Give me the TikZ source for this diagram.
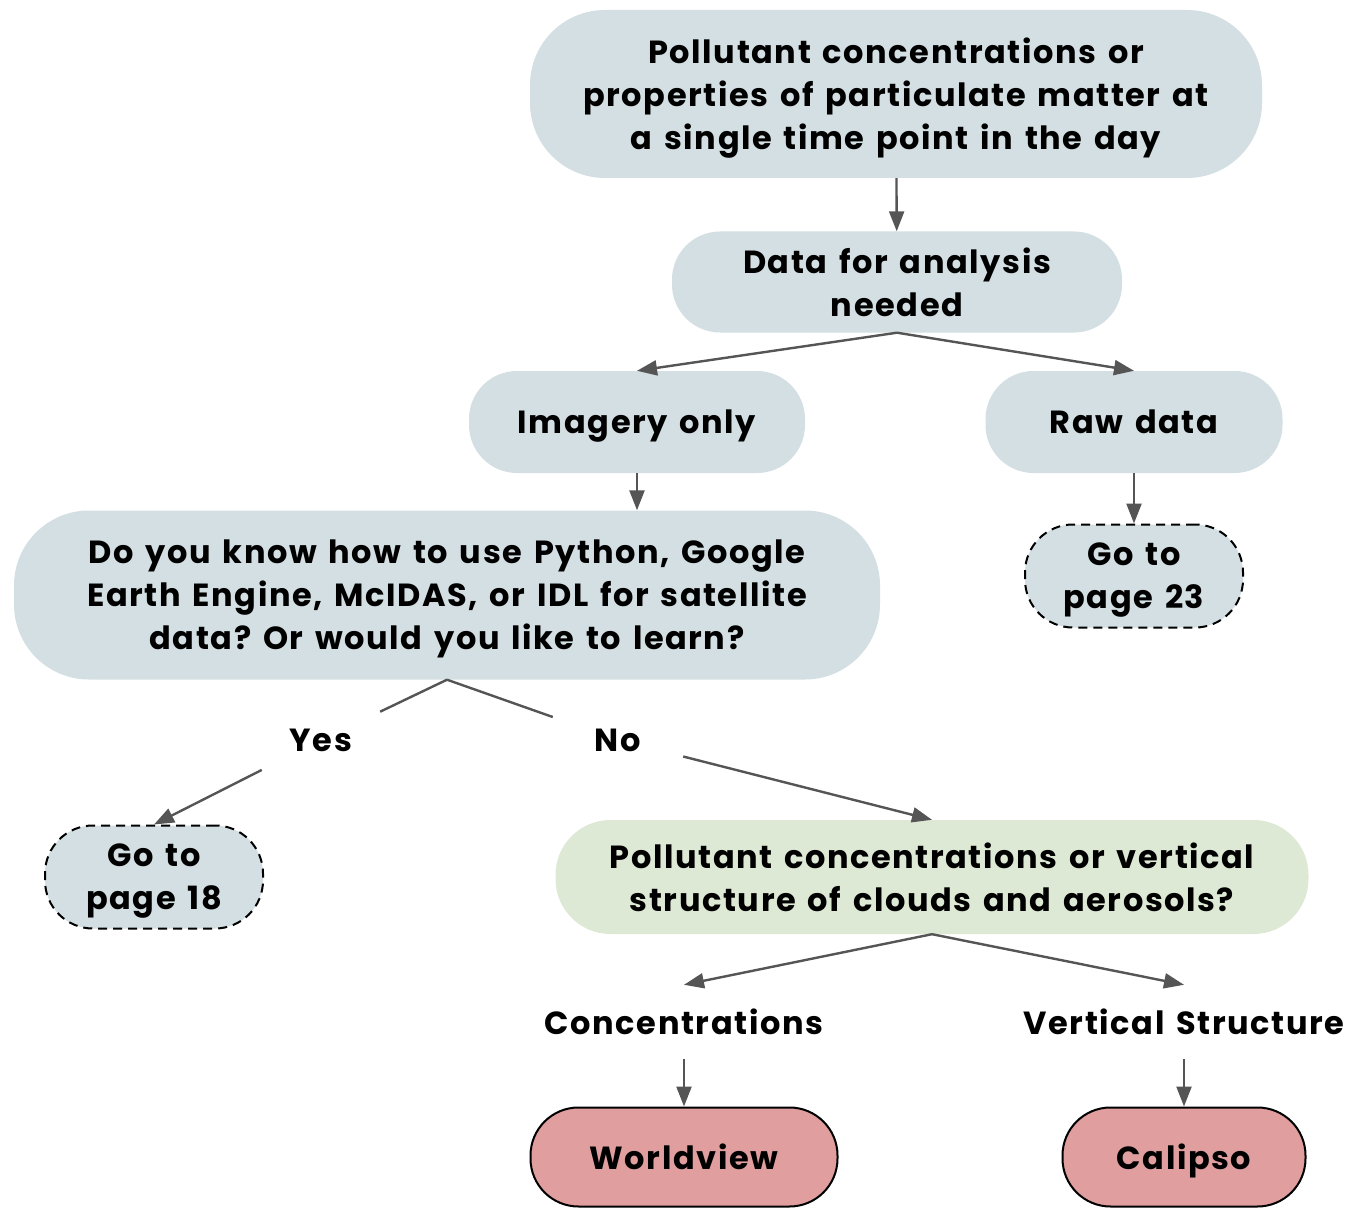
\documentclass[tikz,border=0pt]{standalone}
\usepackage{fontspec}
\setmainfont{Poppins}[LetterSpace=5, WordSpace=1.4]
\usetikzlibrary{arrows.meta}
\definecolor{bluebox}{HTML}{D3DFE2}
\definecolor{greenbox}{HTML}{DDE9D4}
\definecolor{redbox}{HTML}{E09E9E}
\definecolor{arrowgray}{HTML}{555555}
\frenchspacing
\begin{document}
\begin{tikzpicture}[x=1pt,y=-1pt,
  txt/.style={font=\fontsize{32}{43}\selectfont\bfseries, align=center, inner sep=0pt, text depth=0pt},
  box/.style={txt, fill=bluebox},
  gobox/.style={box, draw=black, line width=2pt, dash pattern=on 9pt off 6pt, rounded corners=48pt, minimum width=218pt, minimum height=103pt},
  endbox/.style={txt, fill=redbox, draw=black, line width=2pt, rounded corners=48pt, minimum height=99pt},
  lbl/.style={txt},
  ln/.style={draw=arrowgray, line width=2.4pt},
  arr/.style={ln, -{Triangle[length=20pt,width=15pt]}}
]
\useasboundingbox (0,0) rectangle (1345,1209);

\node[box, rounded corners=75pt, minimum width=732pt, minimum height=168pt] (top) at (896,94)
  {Pollutant concentrations or\\properties of particulate matter at\\a single time point in the day};
\node[box, rounded corners=48pt, minimum width=450pt, minimum height=101pt] (data) at (897,282)
  {Data for analysis\\needed};
\node[box, rounded corners=48pt, minimum width=336pt, minimum height=102pt] (img) at (637,422) {Imagery only};
\node[box, rounded corners=48pt, minimum width=297pt, minimum height=102pt] (raw) at (1134,422) {Raw data};
\node[box, rounded corners=75pt, minimum width=866pt, minimum height=169pt] (q) at (447,595)
  {Do you know how to use Python, Google\\Earth Engine, McIDAS, or IDL for satellite\\data? Or would you like to learn?};
\node[gobox] (g23) at (1134,576) {Go to\\page 23};
\node[gobox] (g18) at (154,877) {Go to\\page 18};
\node[lbl, minimum width=118pt, minimum height=64pt] (yes) at (321,740) {Yes};
\node[lbl, minimum width=130pt, minimum height=64pt] (no) at (618,740) {No};
\node[txt, fill=greenbox, rounded corners=55pt, minimum width=753pt, minimum height=114pt] (green) at (932,877)
  {Pollutant concentrations or vertical\\structure of clouds and aerosols?};
\node[lbl, minimum height=74pt] (conc) at (684,1022) {Concentrations};
\node[lbl, minimum height=74pt] (vert) at (1184,1022) {Vertical Structure};
\node[endbox, minimum width=307pt] (wv) at (684,1157) {Worldview};
\node[endbox, minimum width=243pt] (cal) at (1184,1157) {Calipso};

\draw[arr] (top) -- (data);
\draw[arr] (data.south) -- (img.north);
\draw[arr] (data.south) -- (raw.north);
\draw[arr] (img.south) -- (img.south |- q.north);
\draw[arr] (raw) -- (g23);
\draw[ln] (q.south) -- (yes);
\draw[arr] (yes) -- (g18.north);
\draw[ln] (q.south) -- (no);
\draw[arr] (no) -- (green.north);
\draw[arr] (green.south) -- (conc.north);
\draw[arr] (green.south) -- (vert.north);
\draw[arr] (conc) -- (wv);
\draw[arr] (vert) -- (cal);
\end{tikzpicture}
\end{document}
